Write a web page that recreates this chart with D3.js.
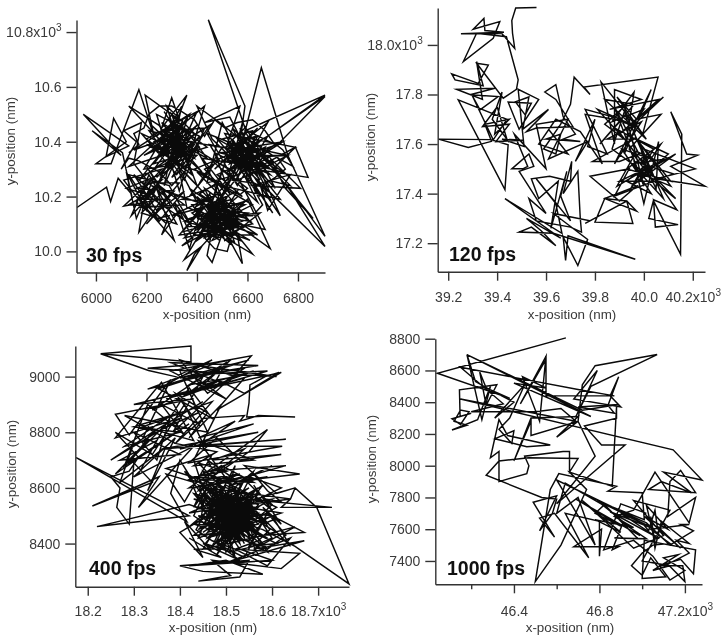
<!DOCTYPE html>
<html>
<head>
<meta charset="utf-8">
<title>Particle trajectories</title>
<script src="https://d3js.org/d3.v7.min.js"></script>
<style type="text/css">
    body { margin: 0; background: #fff; }
    svg { display: block; filter: blur(0.35px); }
    text { font-family: "Liberation Sans", Arial, sans-serif; fill: #3a3a3a; }
    .tick text { font-size: 14px; }
    .title { font-size: 13.4px; }
    .fps { font-size: 19.5px; font-weight: bold; fill: #111; }
    .domain, .tick line { stroke: #333; stroke-width: 1.4px; }
    .track { fill: none; stroke: #0a0a0a; stroke-width: 1.45px; stroke-linejoin: miter; stroke-miterlimit: 6; }
</style>
</head>
<body>
<div id="chart"></div>
<script type="text/javascript">

// x, y in nm
var track30 = [
[5925,10160],[6042,10234],[6058,10182],[6088,10267],[6140,10210],[6105,10360],[5985,10440],[6100,10350],[5950,10500],[6130,10385],[6040,10345],[6070,10485],[6120,10400],[6000,10320],[6060,10320],[6100,10420],[6170,10590],[6230,10420],[6195,10570],[6330,10480],[6300,10560],[6260,10450],[6360,10570],[6280,10380],[6170,10490],[6130,10530],[6250,10460],[6350,10320],[6190,10300],[6340,10530],[6270,10240],[6400,10510],[6200,10410],[6380,10280],[6290,10480],[6440,10380],[6230,10320],[6360,10480],[6300,10300],[6410,10420],[6240,10500],[6330,10220],[6430,10530],[6210,10360],[6350,10400],[6270,10510],[6390,10340],[6180,10430],[6320,10280],[6450,10460],[6260,10350],[6370,10500],[6150,10370],[6300,10420],[6420,10290],[6220,10460],[6340,10350],[6280,10530],[6390,10430],[6240,10270],[6360,10380],[6130,10310],[6310,10460],[6400,10240],[6230,10400],[6340,10450],[6170,10260],[6290,10340],[6200,10150],[6120,10290],[6160,10120],[6230,10270],[6110,10165],[6260,10190],[6170,10070],[6190,10180],[6280,10100],[6150,10210],[6310,10040],[6240,10230],[6130,10170],[6300,10160],[6200,10310],[6340,10120],[6180,10220],[6260,10300],[6110,10260],[6220,10130],[6350,10220],[6250,10110],[6130,10280],[6290,10240],[6380,10090],[6310,10180],[6370,10010],[6420,10160],[6330,10060],[6480,10080],[6390,9990],[6360,9930],[6420,10020],[6350,9970],[6480,10170],[6440,9985],[6460,9960],[6510,10090],[6400,10200],[6560,10060],[6580,9955],[6530,10040],[6620,9990],[6480,10150],[6600,10070],[6690,10010],[6600,10190],[6450,10060],[6560,10220],[6380,10140],[6530,10030],[6430,10230],[6620,10100],[6350,10050],[6510,10190],[6400,10080],[6590,10170],[6340,10190],[6470,10240],[6550,10030],[6420,10130],[6640,10060],[6370,10230],[6510,10060],[6450,10180],[6580,10110],[6410,10050],[6530,10260],[6340,10070],[6490,10110],[6620,10170],[6400,10290],[6570,10130],[6440,10040],[6540,10190],[6300,10130],[6480,10210],[6390,10160],[6610,10040],[6430,10100],[6500,10300],[6600,10230],[6460,10120],[6670,10080],[6550,10290],[6450,10340],[6640,10180],[6520,10400],[6700,10140],[6600,10280],[6480,10410],[6730,10280],[6540,10450],[6620,10310],[6500,10330],[6680,10420],[6560,10240],[6440,10430],[6660,10350],[6580,10470],[6520,10260],[6700,10350],[6600,10410],[6470,10300],[6640,10450],[6530,10340],[6760,10350],[6590,10270],[6680,10220],[6560,10430],[6720,10300],[6620,10380],[6500,10240],[6730,10190],[6600,10340],[6680,10470],[6540,10370],[6740,10400],[6570,10300],[6650,10200],[6510,10430],[6790,10380],[6630,10300],[6840,10270],[6790,10380],[6700,10300],[6860,10120],[6750,10230],[6690,10340],[6810,10230],[6620,10240],[6770,10280],[6680,10150],[6600,10400],[6730,10130],[6620,10280],[6560,10380],[6710,10230],[6590,10440],[6907,10570],[6680,10420],[6907,10565],[6720,10390],[6590,10350],[6760,10350],[6907,10055],[6750,10250],[6907,10018],[6640,10260],[6560,10330],[6590,10530],[6445,10845],[6590,10450],[6520,10390],[6570,10530],[6430,10470],[6530,10490],[6580,10400],[6655,10670],[6760,10350],[6610,10380],[6490,10470],[6400,10530],[6460,10410],[6560,10320],[6420,10340],[6530,10210],[6470,10360],[6600,10300],[6500,10470],[6440,10250],[6560,10280],[6400,10370],[6500,10200],[6620,10340],[6480,10280],[6580,10200],[6390,10300],[6520,10350],[6450,10150],[6600,10120],[6470,10260],[6540,10100],[6360,10160],
[6300,10430],[6370,10360],[6290,10390],[6380,10440],[6310,10340],[6240,10420],[6330,10490],[6260,10400],[6350,10300],[6420,10420],[6280,10320],[6360,10440],[6220,10380],[6340,10380],[6260,10470],[6390,10390],[6300,10270],[6400,10350],[6250,10360],[6330,10430],[6190,10350],[6310,10400],[6370,10320],[6270,10440],[6430,10450],[6350,10260],[6210,10440],[6380,10400],[6290,10300],[6340,10470],[6240,10340],[6400,10460],[6320,10370],[6260,10280],[6410,10380],[6300,10500],[6360,10340],[6200,10390],[6330,10320],[6280,10420],[6440,10340],[6350,10450],[6230,10300],[6390,10370],[6310,10430],[6270,10360],[6370,10400],
[6560,10370],[6620,10330],[6540,10300],[6640,10390],[6570,10420],[6600,10260],[6680,10370],[6530,10380],[6630,10420],[6590,10310],[6510,10350],[6650,10300],[6570,10450],[6610,10360],[6520,10290],[6660,10410],[6550,10340],[6690,10280],[6580,10380],[6640,10340],[6500,10410],[6620,10440],[6560,10260],[6700,10320],[6590,10400],[6530,10320],[6670,10380],[6610,10290],[6540,10410],[6650,10260],[6580,10340],[6490,10360],[6630,10370],[6560,10300],[6710,10390],[6600,10440],[6520,10330],[6680,10310],[6570,10390],[6620,10250],[6540,10260],[6640,10420],[6510,10380],[6600,10320],[6740,10290],[6650,10350],[6770,10240],[6680,10260],[6590,10370],
[6450,10100],[6530,10150],[6420,10190],[6500,10060],[6570,10160],[6440,10080],[6490,10190],[6560,10090],[6400,10120],[6520,10120],[6460,10040],[6590,10090],[6430,10170],[6550,10140],[6480,10050],[6380,10170],[6510,10170],[6420,10070],[6600,10140],[6470,10150],[6350,10110],[6540,10060],[6440,10200],[6570,10040],[6410,10100],[6500,10130],[6620,10060],[6390,10060],[6520,10200],[6460,10090],[6580,10180],[6370,10120],[6490,10040],[6550,10170],[6430,10130],[6610,10110],[6480,10190],[6400,10040],[6540,10130],[6650,10140],[6510,10040],[6450,10210],[6360,10090],[6570,10100],[6430,10050],[6490,10150],
[6220,10240],[6290,10190],[6180,10190],[6260,10260],[6160,10230],[6310,10220],[6200,10100],[6270,10170],[6150,10280],[6240,10150],[6330,10250],[6190,10250],[6300,10110],[6230,10200],[6120,10230],[6280,10290],[6170,10160],[6350,10170],[6250,10240],[6140,10130],[6210,10280],[6320,10100],[6180,10140],[6270,10220],[6400,10180],[6320,10320],[6440,10280],[6370,10200],[6470,10320],[6410,10250],[6500,10380],
[6450,10390],[6490,10330],[6430,10300],[6480,10250],[6410,10210],[6460,10180],[6390,10250],[6350,10290],[6300,10240],[6250,10290],[6170,10330],[6130,10340],[6100,10300],[6160,10400],[6110,10440],[6180,10470],[6150,10320],[6210,10250],[6160,10180],[6240,10120],[6290,10130],[6260,10060],[6330,10150],[6380,10050],[6340,10020],[6420,10060],[6470,10010],[6520,10000],[6560,10130],[6620,10130],[6660,10170],[6630,10220],[6690,10190],[6660,10240],[6710,10270],[6750,10300],[6720,10340],[6780,10310],[6740,10370],[6700,10400],[6670,10440],[6620,10480],[6560,10470],[6510,10450],[6470,10480],[6430,10420],[6390,10480],[6340,10510],[6300,10530],[6250,10530],[6210,10500],[6190,10450],[6150,10430],[6170,10390],[6130,10360]
];
var track120 = [
[39561,18151],[39476,18149],[39460,18098],[39463,18047],[39472,17986],[39418,18047],[39252,18045],[39428,18051],[39350,18058],[39346,18107],[39302,18063],[39411,18094],[39384,18027],[39262,17933],[39316,18047],[39438,18033],[39486,17859],[39479,17821],[39425,17785],[39316,17926],[39364,17919],[39323,17845],[39214,17883],[39228,17859],[39343,17835],[39316,17933],[39340,17780],[39234,17821],[39391,17825],[39289,17799],[39404,17792],[39330,17738],[39296,17800],[39384,17617],[39440,17700],[39241,17778],[39432,17416],[39445,17597],[39375,17618],[39160,17620],[39282,17586],[39377,17611],[39350,17680],[39450,17700],[39390,17640],[39420,17810],[39380,17700],[39440,17620],[39400,17750],[39340,17670],[39450,17680],[39395,17610],[39510,17615],[39420,17620],[39510,17590],[39486,17821],[39570,17780],[39490,17660],[39445,17770],[39540,17765],[39515,17718],[39475,17770],[39530,17790],[39505,17660],[39610,17740],[39520,17650],[39560,17665],[39710,17670],[39640,17780],[39595,17810],[39640,17840],[39670,17710],[39720,17640],[39670,17620],[39740,17610],[39600,17620],[39660,17640],[39640,17560],[39590,17580],[39660,17680],[39700,17760],[39715,17870],[39780,17800],[39755,17830],[40058,17870],[39995,17640],[39825,17850],[39880,17600],[39880,17820],[39990,17780],[39860,17740],[40060,17780],[39900,17640],[40080,17790],[39940,17660],[40000,17740],[39870,17690],[39960,17810],[39920,17560],[40030,17820],[39880,17520],[39990,17690],[39850,17620],[39960,17620],[39790,17530],[39900,17530],[39980,17560],[39880,17750],[40000,17430],[39920,17740],[40030,17480],[39890,17660],[40040,17580],[39940,17410],[40070,17600],[39930,17500],[40110,17450],[39970,17620],[40100,17560],[39950,17430],[40130,17560],[39990,17480],[40110,17430],[40000,17580],[40210,17500],[40050,17460],[40250,17430],[40110,17510],[40220,17555],[40175,17560],[40110,17730],[40155,17640],[40150,17155],[40040,17370],[40047,17265],[40140,17275],[40020,17300],[40040,17375],[40135,17335],[39990,17540],[40050,17420],[40060,17610],[40000,17360],[39960,17530],[40120,17480],[39880,17390],[39940,17500],[39780,17470],[39900,17370],[39970,17430],[39840,17380],[39970,17330],[39930,17370],[39840,17380],[39800,17285],[39955,17280],[39930,17370],[39760,17280],[39780,17290],[39630,17320],[39770,17215],[39730,17110],[39670,17225],[39680,17130],[39690,17230],[39965,17135],[39630,17240],[39490,17245],[39540,17265],[39640,17190],[39580,17250],[39520,17300],[39660,17220],[39432,17380],[39665,17240],[39640,17360],[39560,17460],[39700,17290],[39660,17390],[39685,17490],[39620,17260],[39650,17450],[39570,17380],[39540,17460],[39615,17470],[39700,17450],[39705,17530],[39670,17400],[39730,17490],[39740,17300],[39745,17245],[39700,17265],[39560,17290],[39530,17380],[39600,17320],[39490,17490],[39550,17510],[39530,17560],[39460,17500],[39505,17500],[39525,17510],[39470,17640],
[39600,17500],[39560,17680],[39690,17700],[39610,17540],[39770,17610],[39720,17530],[39800,17700],[39770,17590],[39850,17560],[39760,17740],[39910,17700],[39820,17600],[39960,17760],[39840,17780],[40010,17620],[39890,17790],[39970,17700],[40070,17720],[39940,17580],[40040,17450],[39900,17450],[40090,17540],[39950,17520],[40080,17380],[39980,17610],[40010,17500],[39890,17430],[39970,17570],[40060,17530],[39910,17580],[40030,17400],[39930,17450],[40000,17510],[40130,17380],[39980,17500],[39870,17580],[39930,17760],[39840,17680],[39920,17620],[39810,17740],[39970,17670],[39880,17700],[39760,17720],[39830,17520],[39740,17650],[39640,17700],[39570,17600],[39690,17560],[39610,17660]
];
var track400 = [
[18228,9082],[18424,9110],[18424,9053],[18228,9082],[18332,9022],[18390,9000],[18470,9060],[18352,8955],[18550,9060],[18400,8995],[18570,9040],[18380,9050],[18500,8970],[18555,9075],[18440,9040],[18610,9000],[18330,9030],[18480,9050],[18330,8955],[18470,9010],[18590,9020],[18440,8950],[18620,9015],[18480,8880],[18540,8995],[18370,8920],[18480,8980],[18340,8880],[18450,9000],[18385,8800],[18500,8980],[18300,8900],[18430,8920],[18260,8865],[18290,8790],[18380,8990],[18320,8780],[18440,8870],[18400,9020],[18460,8800],[18280,8860],[18390,8760],[18470,8910],[18320,8820],[18430,8770],[18360,8980],[18260,8780],[18400,8850],[18250,8700],[18340,8800],[18290,8690],[18420,8830],[18260,8650],[18330,8770],[18300,8760],[18270,8620],[18370,8750],[18330,8590],[18390,8780],[18300,8640],[18430,8750],[18310,8530],[18355,8640],[18210,8535],[18340,8620],[18300,8690],[18290,8470],[18263,8530],[18270,8600],[18250,8640],[18290,8660],[18310,8710],[18260,8800],[18340,8720],[18410,8900],[18450,8760],[18520,8840],[18440,8780],[18560,8830],[18400,8740],[18570,8800],[18360,8740],[18630,8775],[18420,8750],[18622,8750],[18420,8690],[18480,8780],[18530,8700],[18620,8720],[18470,8700],[18540,8740],[18470,8640],[18550,8730],[18590,8810],[18460,8660],[18630,8680],[18500,8620],[18660,8650],[18540,8680],[18610,8580],[18650,8600],[18500,8530],[18640,8560],[18460,8600],[18590,8470],[18430,8560],[18620,8510],[18460,8420],[18570,8600],[18420,8460],[18560,8660],[18480,8410],[18610,8530],[18450,8660],[18530,8400],[18410,8660],[18560,8470],[18440,8500],[18590,8370],[18480,8630],[18540,8430],[18440,8610],[18570,8540],[18500,8370],[18470,8580],[18610,8440],[18450,8380],[18530,8590],[18420,8510],[18600,8560],[18480,8450],[18520,8680],[18450,8460],[18580,8610],[18500,8440],[18430,8580],[18560,8520],[18470,8390],[18540,8630],[18490,8500],[18590,8420],[18450,8560],[18520,8350],[18480,8590],[18570,8450],[18430,8430],[18550,8570],[18500,8610],[18460,8470],[18530,8490],[18570,8360],[18510,8560],[18440,8530],[18600,8500],[18490,8400],[18510,8620],[18550,8440],[18460,8520],[18540,8540],[18480,8360],[18530,8470],[18570,8580],[18450,8440],[18510,8510],[18590,8470],[18470,8610],[18540,8400],[18490,8550],[18550,8600],[18440,8480],[18520,8450],[18500,8580],[18570,8500],[18480,8490],[18530,8420],[18460,8590],[18550,8480],[18510,8390],[18490,8530],[18580,8390],[18430,8470],[18510,8460],[18540,8510],[18470,8540],[18520,8600],[18560,8420],[18480,8520],[18540,8450],[18500,8490],[18460,8420],[18560,8550],[18490,8470],[18530,8530],[18510,8430],[18470,8500],[18550,8510],[18500,8540],[18520,8480],[18480,8430],[18570,8470],[18510,8570],[18460,8550],[18530,8380],[18600,8340],[18420,8320],[18500,8340],[18580,8290],[18450,8300],[18400,8320],[18550,8340],[18530,8280],[18440,8265],[18510,8285],[18470,8340],[18620,8310],[18660,8365],[18520,8380],[18590,8320],[18640,8420],[18500,8330],[18670,8410],[18560,8380],[18650,8460],[18580,8430],[18670,8440],[18600,8500],[18640,8390],[18540,8560],[18730,8530],[18620,8530],[18640,8560],[18650,8600],[18697,8530],[18767,8255],[18650,8390],[18580,8450],[18420,8540],[18220,8461],[18420,8500],[18175,8709],[18415,8479],[18380,8580],[18400,8700],[18430,8620],[18370,8650],[18410,8550],[18470,8720],[18370,8670],[18520,8590],[18440,8770],[18560,8700],[18430,8680],[18480,8730],[18390,8760],[18450,8850],[18540,8860],[18530,8840],[18570,8860],[18650,8855],[18590,8858],[18545,8855],[18550,8905],[18552,8970],[18585,9000],[18615,9015],[18540,8940],[18480,8990],
[18500,9050],[18420,8970],[18520,9000],[18400,9060],[18460,8940],[18540,9030],[18430,9000],[18500,8920],[18380,9020],[18510,9060],[18450,8970],[18560,9020],[18410,8930],[18490,9030],[18350,8960],[18470,8850],[18420,8960],[18370,8830],[18450,8910],[18340,8800],[18420,8880],[18300,8820],[18400,8800],[18280,8750],[18380,8860],[18350,8700],[18300,8800],[18400,8720],[18270,8700],[18350,8770],[18310,8650],[18370,8830],[18280,8680],[18330,8900],[18410,8790],[18360,8900],[18440,8830],[18390,8940],[18460,8870],[18420,8780],[18490,8900],[18430,8700],
[18470,8500],[18520,8560],[18490,8440],[18550,8530],[18470,8470],[18530,8440],[18500,8550],[18460,8450],[18540,8490],[18510,8410],[18480,8560],[18560,8460],[18490,8520],[18520,8420],[18450,8520],[18550,8460],[18500,8470],[18540,8570],[18480,8470],[18510,8530],[18560,8490],[18470,8430],[18530,8560],[18490,8480],[18550,8420],[18460,8540],[18520,8510],[18500,8400],[18570,8530],[18480,8540],[18530,8450],[18510,8590],[18460,8490],[18550,8550],[18500,8430],[18540,8470],[18470,8570],[18520,8440],[18490,8580],[18560,8440],[18510,8500],[18450,8470],[18530,8510],[18480,8400],[18570,8510],[18500,8520],[18460,8570],[18540,8420],[18520,8540],[18470,8460],[18550,8490],[18490,8420],[18510,8550],[18560,8520],[18480,8510],[18530,8400],[18500,8560],[18440,8450],[18540,8550],[18490,8450],[18520,8500],[18470,8520],[18560,8470],[18510,8450],[18480,8570],[18550,8440],[18500,8510],[18530,8580],[18460,8440],[18520,8470],[18490,8560],[18570,8440],[18510,8480],[18450,8580],[18540,8480],[18500,8450],[18480,8530],[18560,8570],[18520,8420],[18470,8550],[18530,8490],
[18480,8620],[18440,8690],[18500,8660],[18430,8640],[18520,8630],[18460,8700],[18490,8600],[18420,8630],[18510,8690],[18470,8660],[18440,8590],[18530,8650],[18450,8630],[18560,8620],[18490,8680],[18420,8600],[18590,8640],[18510,8610],[18600,8680],[18550,8640],[18620,8600],[18570,8560],[18600,8520],[18560,8610],[18620,8470],[18580,8530],[18630,8430],[18590,8380],[18560,8440],[18610,8400],[18550,8390],[18590,8510],[18540,8350],[18480,8400],[18530,8340],[18450,8400],[18500,8380],[18430,8380],[18490,8350],[18420,8420],[18470,8370],[18410,8480],[18450,8350],[18400,8440],[18460,8500],
[18440,8560],[18470,8620],[18430,8530],[18460,8640],[18445,8480],[18480,8580],[18440,8420],[18475,8440],[18455,8400],[18510,8370],[18560,8390],[18600,8420],[18580,8470],[18610,8490],[18585,8560],[18620,8550],[18590,8590],[18560,8650],[18530,8610],[18500,8640],[18460,8610],[18430,8600],[18455,8510],[18435,8450],[18470,8410],[18520,8380],[18570,8410],[18595,8450],[18575,8500],[18600,8540],[18565,8590],[18535,8640],[18490,8620],[18450,8570],[18430,8500],[18465,8460],[18500,8420],[18550,8410],[18580,8480],[18555,8540],[18525,8590]
];
var track1000 = [
[46643,8805],[46042,8582],[46381,8424],[46270,8490],[46240,8590],[46270,8380],[46320,8510],[46145,8478],[46148,8310],[46200,8330],[46110,8295],[46150,8260],[46190,8340],[46150,8350],[46120,8280],[46180,8255],[46110,8225],[46230,8290],[46290,8500],[46250,8290],[46180,8700],[46220,8530],[46300,8470],[46400,8400],[46310,8300],[46450,8510],[46380,8300],[46330,8230],[46390,8140],[46400,8220],[46310,8170],[46460,8120],[46570,8130],[46370,8190],[46330,8290],[46290,8050],[46330,8090],[46330,8000],[46330,7900],[46460,7950],[46470,8000],[46450,8060],[46630,8090],[46660,8090],[46660,7960],[46700,8045],[46470,8050],[46330,8030],[46270,7940],[46530,7800],[46600,7790],[46580,7700],[46520,7590],[46600,7810],[46490,7770],[46590,7550],[46520,7670],[46590,7700],[46750,7420],[46640,7700],[46800,7650],[46800,7430],[46810,7600],[46680,7490],[46890,7490],[46860,7470],[46910,7640],[47020,7540],[46870,7545],[46980,7540],[46820,7760],[47020,7640],[47130,7500],[47240,7590],[47180,7630],[47220,7630],[47040,7600],[47130,7510],[47050,7500],[47000,7450],[46950,7370],[47000,7310],[47040,7420],[47110,7300],[47000,7290],[47010,7530],[47250,7470],[47240,7320],[47180,7410],[47080,7370],[47190,7370],[47200,7270],[47120,7380],[47220,7450],[47160,7530],[47220,7510],[47090,7650],[47060,7480],[47040,7680],[47060,7520],[47020,7750],[47120,7600],[47010,7680],[47180,7480],[47070,7620],[47060,7720],[47030,7590],[47000,7640],[46900,7700],[47080,7540],[46850,7710],[47060,7600],[46790,7780],[46990,7560],[46690,7790],[46900,7620],[46780,7700],[46820,7750],[46640,7890],[46600,7700],[46700,7800],[46780,7500],[46720,7640],[46600,7910],[46860,7740],[47010,7660],[47000,7830],[46840,7840],[46880,7870],[46610,7950],[46570,7850],[46500,7270],[46620,7500],[46740,7850],[46660,7960],[46860,7870],[46880,8370],[46880,8300],[46730,8250],[46810,8130],[46920,8130],[46600,7760],[46780,8060],[46700,8280],[46480,8190],[46480,8280],[46400,8030],[46480,8300],[46700,8310],[46600,8180],[46700,8280],[46720,8510],[46780,8630],[47070,8700],[46760,8500],[46690,8310],[46790,8600],[46680,8420],[46900,8370],[46850,8440],[46890,8560],[46840,8380],[46870,8330],[46700,8370],[46890,8385],[46720,8350],[46180,8700],[46760,8310],[46400,8520],[46550,8490],[46440,8560],[46520,8280],[46550,8690],[46430,8390],[46550,8670],[46550,8440],[46720,8440],[46870,8440],[46700,8480],[46150,8620],[46350,8390],[46200,8340],[46500,8340],[46620,8360],[46690,8280],[46150,8420],[47145,8100],[47280,7910],[47100,7960],[47230,7830],[47090,7900],[47030,7850],[47250,7830],[47180,7970],[47130,7900],[47120,7680],[47250,7800],[47220,7640],[47060,7960],
[46960,7720],[46870,7680],[46960,7610],[46780,7660],[46900,7580],[46720,7780],[46850,7620],[46960,7480],[47100,7560],[46960,7780],[47130,7720],[47000,7400],[47130,7370],[47050,7340],[47170,7440],[47100,7420],[47200,7340],[47130,7280],[47050,7430],[46960,7530],[46820,7470],[46900,7760],[47020,7700]
];

var xLabels30 = ["6000","6200","6400","6600","6800"];
var yLabels30 = ["10.0","10.2","10.4","10.6","10.8x10"];
var xLabels120 = ["39.2","39.4","39.6","39.8","40.0","40.2x10"];
var yLabels120 = ["17.2","17.4","17.6","17.8","18.0x10"];
var xLabels400 = ["18.2","18.3","18.4","18.5","18.6","18.7x10"];
var yLabels400 = ["8400","8600","8800","9000"];
var xLabels1000 = ["","46.4","","46.8","","47.2x10"];
var yLabels1000 = ["7400","7600","7800","8000","8200","8400","8600","8800"];

var xTicks30 = [6000,6200,6400,6600,6800];
var yTicks30 = [10000,10200,10400,10600,10800];
var xTicks120 = [39200,39400,39600,39800,40000,40200];
var yTicks120 = [17200,17400,17600,17800,18000];
var xTicks400 = [18200,18300,18400,18500,18600,18700];
var yTicks400 = [8400,8600,8800,9000];
var xTicks1000 = [46200,46400,46600,46800,47000,47200];
var yTicks1000 = [7400,7600,7800,8000,8200,8400,8600,8800];

var panels = [
    { name: "30 fps", track: track30, xTicks: xTicks30, xLabels: xLabels30, yTicks: yTicks30, yLabels: yLabels30,
      xDom: [5923,6907], yDom: [9923,10844], box: [76.5,325,272.5,20], fps: [86,262], yT: [11,141], xT: [207,319], xTick: 297.7 },
    { name: "120 fps", track: track120, xTicks: xTicks120, xLabels: xLabels120, yTicks: yTicks120, yLabels: yLabels120,
      xDom: [39157,40250], yDom: [17085,18149], box: [437.7,705,271.7,8], fps: [449,261], yT: [371,137], xT: [572,319], xTick: 297 },
    { name: "400 fps", track: track400, xTicks: xTicks400, xLabels: xLabels400, yTicks: yTicks400, yLabels: yLabels400,
      xDom: [18173,18767], yDom: [8245,9110], box: [75.3,349,586.7,346], fps: [89,575], yT: [12,464], xT: [213,632], xTick: 611 },
    { name: "1000 fps", track: track1000, xTicks: xTicks1000, xLabels: xLabels1000, yTicks: yTicks1000, yLabels: yLabels1000,
      xDom: [46032,47280], yDom: [7253,8800], box: [435.3,702,584.3,338.7], fps: [447,575], yT: [372,459], xT: [570,632], xTick: 611 }
];

var svg = d3.select("#chart")
    .append("svg")
    .attr("width", 726)
    .attr("height", 640);

function addExponent(sel) {
    sel.filter(function() { return /x10$/.test(d3.select(this).text()); })
        .append("tspan")
        .attr("dy", "-6")
        .style("font-size", "10px")
        .text("3");
}

panels.forEach(function(p) {

    var x = d3.scaleLinear().domain(p.xDom).range([p.box[0], p.box[1]]);
    var y = d3.scaleLinear().domain(p.yDom).range([p.box[2], p.box[3]]);

    var g = svg.append("g");

    var line = d3.line()
        .x(function(d) { return x(d[0]); })
        .y(function(d) { return y(d[1]); });

    g.append("path")
        .datum(p.track)
        .attr("class", "track")
        .attr("d", line);

    var xAxis = d3.axisBottom(x)
        .tickValues(p.xTicks)
        .tickSizeInner(9)
        .tickSizeOuter(0)
        .tickPadding(p.xTick - p.box[2] - 14)
        .tickFormat(function(d, i) { return p.xLabels[i]; });

    var yAxis = d3.axisLeft(y)
        .tickValues(p.yTicks)
        .tickSizeInner(10)
        .tickSizeOuter(0)
        .tickPadding(5)
        .tickFormat(function(d, i) { return p.yLabels[i]; });

    var gx = g.append("g").attr("transform", "translate(0," + p.box[2] + ")").call(xAxis);
    var gy = g.append("g").attr("transform", "translate(" + p.box[0] + ",0)").call(yAxis);

    gx.selectAll(".tick text").call(addExponent);
    gy.selectAll(".tick text").call(addExponent);

    // unlabelled ticks are the short minor ones
    gx.selectAll(".tick line")
        .filter(function(d, i) { return p.xLabels[i] === ""; })
        .attr("y2", 5);

    g.append("text")
        .attr("class", "fps")
        .attr("x", p.fps[0])
        .attr("y", p.fps[1])
        .text(p.name);

    g.append("text")
        .attr("class", "title")
        .attr("text-anchor", "middle")
        .attr("x", p.xT[0])
        .attr("y", p.xT[1])
        .text("x-position (nm)");

    g.append("text")
        .attr("class", "title")
        .attr("text-anchor", "middle")
        .attr("transform", "translate(" + (p.yT[0] + 4) + "," + p.yT[1] + ") rotate(-90)")
        .text("y-position (nm)");
});

</script>
</body>
</html>
